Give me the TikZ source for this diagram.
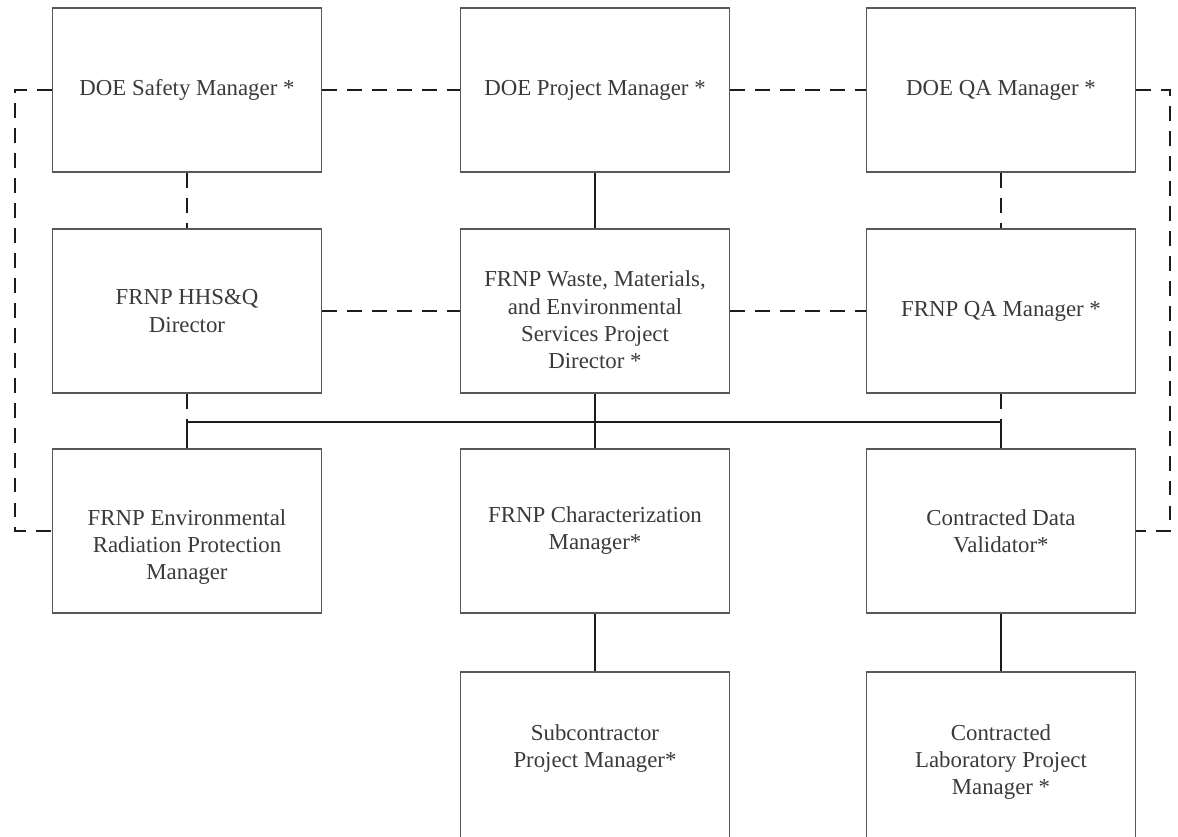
\documentclass[tikz,border=0pt]{standalone}
\usepackage{fontspec}
\setmainfont{Liberation Serif}
\usepackage{tikz}
\usetikzlibrary{calc,positioning}
\definecolor{boxgray}{RGB}{88,88,88}
\definecolor{txtgray}{RGB}{58,58,58}
\definecolor{linedark}{RGB}{28,28,28}

\begin{document}
\begin{tikzpicture}[x=0.02cm,y=-0.02cm,
    box/.style={draw=boxgray,line width=1.1pt,rectangle,minimum width=5.38cm,minimum height=3.28cm,
      inner sep=0pt,align=center,text=txtgray,font=\fontsize{13}{15.4}\selectfont},
    lowbox/.style={box,minimum height=3.36cm},
    dashline/.style={linedark,line width=1.7pt,dash pattern=on 8.5pt off 5.7pt},
    solidline/.style={linedark,line width=1.1pt},
    busline/.style={linedark,line width=1.7pt}]
      \useasboundingbox (0,0) rectangle (1178,837);
      % DOE row
      \node[box] (dsm) at (187,90) {DOE Safety Manager *};
      \node[box] (dpm) at (595,90) {DOE Project Manager *};
      \node[box] (dqa) at (1001,90) {DOE QA Manager *};
      % FRNP row
      \node[box] (hhs) at (187,311) {FRNP HHS\&Q\\ Director};
      \node[box] (wms) at (595,311) {\rule{0pt}{19pt}FRNP Waste, Materials,\\ and Environmental\\ Services Project\\ Director *};
      \node[box] (fqa) at (1001,311) {FRNP QA Manager *};
      % managers
      \node[box] (erp) at (187,531) {\rule{0pt}{27pt}FRNP Environmental\\ Radiation Protection\\ Manager};
      \node[box] (chm) at (595,531) {FRNP Characterization\\ Manager*};
      \node[box] (cdv) at (1001,531) {Contracted Data\\ Validator*};
      % bottom row, cut off by the page edge
      \node[lowbox] (spm) at (595,756) {Subcontractor\\ Project Manager*\rule[-11pt]{0pt}{11pt}};
      \node[lowbox] (clp) at (1001,756) {\rule{0pt}{16pt}Contracted\\ Laboratory Project\\ Manager *};
      % coordination lines
      \coordinate (lt) at (15,90);
      \coordinate (rt) at (1170,90);
      \draw[dashline] (dsm.east) -- (dpm.west);
      \draw[dashline] (dpm.east) -- (dqa.west);
      \draw[dashline] (dsm.west) -- (lt) |- (erp.west);
      \draw[dashline] (dqa.east) -- (rt) |- (cdv.east);
      \draw[dashline] (dsm.south) -- (hhs.north);
      \draw[solidline] (dpm.south) -- (wms.north);
      \draw[dashline] (dqa.south) -- (fqa.north);
      \draw[dashline] (hhs.east) -- (wms.west);
      \draw[dashline] (wms.east) -- (fqa.west);
      % bus to the managers
      \coordinate (busl) at (187,422);
      \coordinate (busr) at (1001,422);
      \draw[dashline] (hhs.south) -- (busl);
      \draw[dashline] (fqa.south) -- (busr);
      \draw[busline] (busl) -- (busr);
      \draw[solidline] (busl) -- (erp.north);
      \draw[solidline] (busr) -- (cdv.north);
      \draw[solidline] (wms.south) -- (chm.north);
      \draw[solidline] (chm.south) -- (spm.north);
      \draw[solidline] (cdv.south) -- (clp.north);
\end{tikzpicture}
\end{document}
